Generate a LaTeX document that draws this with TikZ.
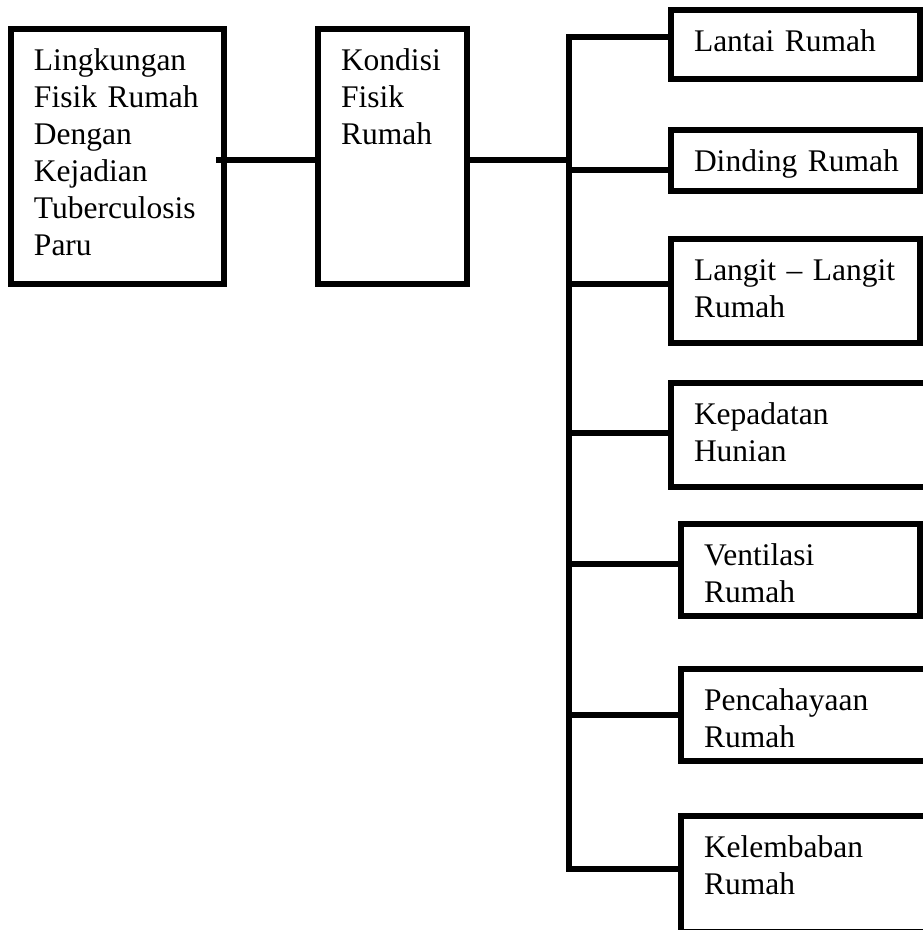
\documentclass[tikz,border=0pt]{standalone}
\usepackage{fontspec}
\setmainfont{Liberation Serif}
\usepackage{tikz}

\begin{document}
\begin{tikzpicture}[x=1pt, y=-1pt,
    kotak/.style={draw, line width=6pt, anchor=north west, outer sep=0pt,
        inner xsep=23pt, inner ysep=0pt, align=left, text height=41.5pt,
        font=\fontsize{31.5}{36.9}\selectfont},
    garis/.style={line width=6pt}]

    % Batas gambar
    \useasboundingbox (0,0) rectangle (923,930);
    \clip (0,0) rectangle (923,930);

    % Kotak kiri
    \node[kotak, text width=167pt, text depth=213.5pt] (lingkungan) at (11,29)
        {Lingkungan\\Fisik Rumah\\Dengan\\Kejadian\\Tuberculosis\\Paru};
    \node[kotak, text width=103pt, text depth=213.5pt] (kondisi) at (318,29)
        {Kondisi\\Fisik\\Rumah};

    % Kotak kanan
    \node[kotak, text width=203pt, text depth=27.5pt] (lantai)  at (671,10)  {Lantai~Rumah};
    \node[kotak, text width=203pt, text depth=19.5pt] (dinding) at (671,130) {Dinding~Rumah};
    \node[kotak, text width=203pt, text depth=62.5pt] (langit)  at (671,239) {Langit~--~Langit\\Rumah};
    \node[kotak, text width=218pt, text depth=62.5pt] (kepadatan) at (671,383) {Kepadatan\\Hunian};
    \node[kotak, text width=193pt, text depth=50.5pt] (ventilasi) at (681,524) {Ventilasi\\Rumah};
    \node[kotak, text width=208pt, text depth=50.5pt] (pencahayaan) at (681,669) {Pencahayaan\\Rumah};
    \node[kotak, text width=208pt, text depth=74.5pt] (kelembaban) at (681,816) {Kelembaban\\Rumah};

    % Garis utama
    \coordinate (cabang) at (569,160);
    \draw[garis] ([xshift=-8pt]lingkungan.east |- cabang) -- (kondisi.west |- cabang);
    \draw[garis] (kondisi.east |- cabang) -- (cabang);

    % Batang vertikal
    \coordinate (atas)  at (569,37);
    \coordinate (bawah) at (569,869);
    \draw[garis] (lantai.west |- atas) -- (atas) -- (bawah)
        -- (kelembaban.west |- bawah);

    % Cabang ke kotak kanan
    \foreach \n/\y in {dinding/170, langit/284, kepadatan/433,
                       ventilasi/564, pencahayaan/715}{
        \coordinate (c\n) at (569,\y);
        \draw[garis] (c\n) -- (\n.west |- c\n);
    }
\end{tikzpicture}
\end{document}
